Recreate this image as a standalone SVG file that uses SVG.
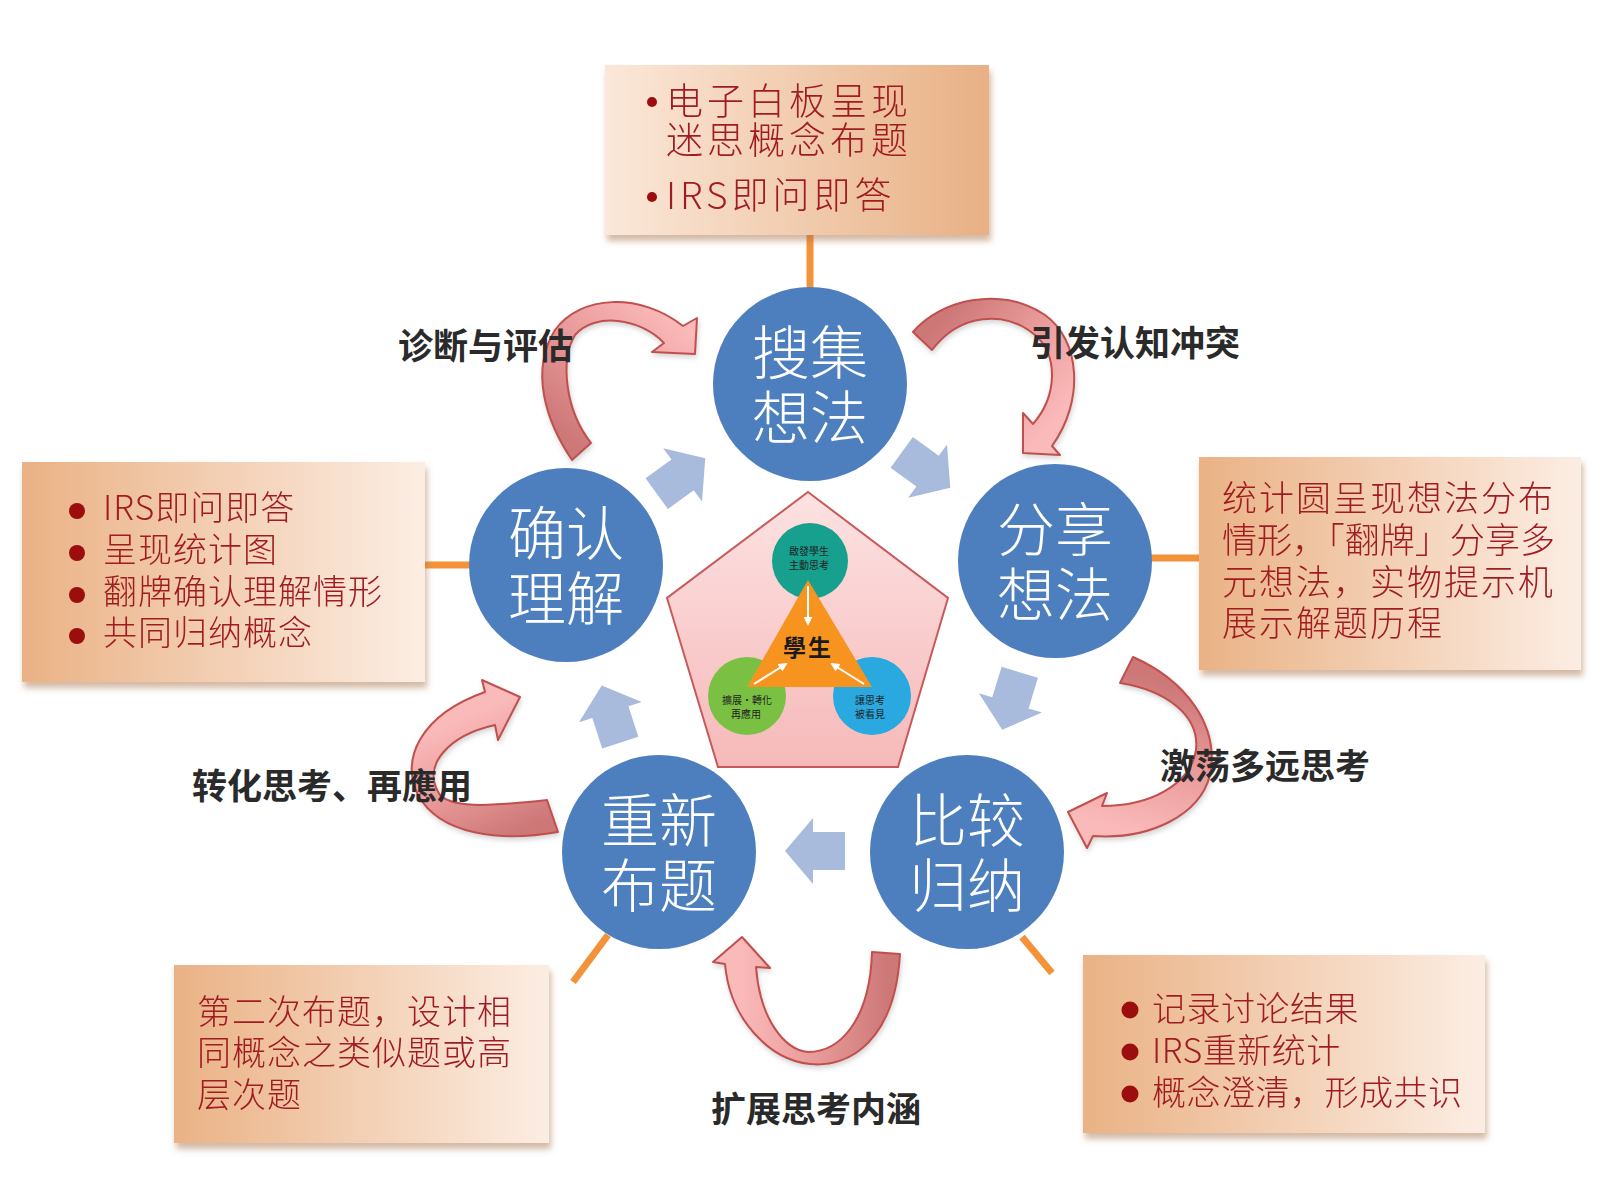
<svg xmlns="http://www.w3.org/2000/svg" width="1600" height="1197" viewBox="0 0 1600 1197">
<defs>
<style>
.bt{font-family:"Noto Sans CJK SC","Noto Sans",sans-serif;font-weight:300;fill:#a11d23;}
.lbl{font-family:"Noto Sans CJK SC","Noto Sans",sans-serif;font-weight:700;font-size:35px;fill:#2a2a2a;}
.nt{font-family:"Noto Sans CJK SC","Noto Sans",sans-serif;font-weight:300;font-size:58px;fill:#ffffff;text-anchor:middle;}
.node{fill:#4d7fbf;}
.conn{stroke:#f4923a;stroke-width:7;fill:none;}
.red{stroke:#c0504d;stroke-width:2;stroke-linejoin:round;}
.blue{fill:#a8bbdc;}
.bul{fill:#9c0c10;}
.small{font-family:"Noto Sans CJK TC","Noto Sans",sans-serif;font-size:10px;fill:#1e1e1e;text-anchor:middle;}
.wl{stroke:#ffffff;stroke-width:2;fill:none;marker-end:url(#wa);}
</style>
<linearGradient id="gL2D" x1="0" y1="0" x2="1" y2="0"><stop offset="0" stop-color="#fbe8da"/><stop offset="1" stop-color="#e8b084"/></linearGradient>
<linearGradient id="gD2L" x1="0" y1="0" x2="1" y2="0"><stop offset="0" stop-color="#eab285"/><stop offset="1" stop-color="#fcede3"/></linearGradient>
<linearGradient id="gPent" x1="0" y1="0" x2="0" y2="1"><stop offset="0" stop-color="#fde2e2"/><stop offset="1" stop-color="#f6b9b9"/></linearGradient>
<linearGradient id="rg"><stop offset="0" stop-color="#cd7777"/><stop offset="0.5" stop-color="#e99a9a"/><stop offset="1" stop-color="#fbbaba"/></linearGradient>
<linearGradient id="r1" href="#rg" gradientUnits="userSpaceOnUse" x1="581" y1="452" x2="690" y2="330"/>
<linearGradient id="r2" href="#rg" gradientUnits="userSpaceOnUse" x1="922" y1="341" x2="1040" y2="440"/>
<linearGradient id="r3" href="#rg" gradientUnits="userSpaceOnUse" x1="1126" y1="670" x2="1085" y2="820"/>
<linearGradient id="r4" href="#rg" gradientUnits="userSpaceOnUse" x1="890" y1="960" x2="740" y2="960"/>
<linearGradient id="r5" href="#rg" gradientUnits="userSpaceOnUse" x1="553" y1="816" x2="500" y2="700"/>
<filter id="sh" x="-10%" y="-10%" width="125%" height="135%"><feDropShadow dx="2" dy="6" stdDeviation="3" flood-color="#a8724a" flood-opacity="0.5"/></filter>
<filter id="sh2" x="-10%" y="-10%" width="125%" height="125%"><feDropShadow dx="1" dy="3" stdDeviation="2.5" flood-color="#888" flood-opacity="0.35"/></filter>
<path id="barrow" d="M-30,-19 L2,-19 L2,-33 L30,0 L2,33 L2,19 L-30,19 Z"/>
<marker id="wa" viewBox="0 0 10 10" refX="8" refY="5" markerWidth="4.5" markerHeight="4.5" orient="auto"><path d="M0,0 L10,5 L0,10 Z" fill="#ffffff"/></marker>
</defs>
<rect width="1600" height="1197" fill="#ffffff"/>

<g id="connectors">
<line class="conn" x1="810" y1="235" x2="810" y2="289"/>
<line class="conn" x1="425" y1="565" x2="471" y2="565"/>
<line class="conn" x1="1150" y1="558" x2="1199" y2="558"/>
<line class="conn" x1="608" y1="935" x2="573" y2="982"/>
<line class="conn" x1="1022" y1="937" x2="1052" y2="973"/>
<g filter="url(#sh2)">
<path class="red" fill="url(#r1)" d="M572,460 C545,420 530,370 555,330 C580,295 640,292 683,326 L697,318 L695,354 L652,352 L664,343 C640,318 595,312 575,335 C560,360 565,410 591,443 Z"/>
<path class="red" fill="url(#r2)" d="M913,332 C940,300 1000,285 1045,315 C1080,340 1085,400 1052,446 L1060,455 L1023,453 L1023,413 L1033,424 C1058,395 1058,355 1035,335 C1005,310 960,313 932,350 Z"/>
<path class="red" fill="url(#r3)" d="M1133,657 C1185,680 1220,725 1210,775 C1200,815 1150,840 1093,836 L1087,848 L1068,812 L1107,793 L1102,806 C1150,806 1190,785 1196,750 C1200,715 1165,690 1120,683 Z"/>
<path class="red" fill="url(#r4)" d="M900,954 C895,1040 850,1068 810,1064 C770,1060 730,1020 725,964 L713,962 L742,937 L770,968 L756,967 C760,1020 785,1050 808,1052 C840,1052 870,1020 872,952 Z"/>
<path class="red" fill="url(#r5)" d="M558,832 C500,842 440,835 418,795 C400,760 420,715 485,692 L482,680 L520,697 L498,740 L495,725 C450,735 420,765 440,795 C455,810 500,805 547,800 Z"/>
</g>
<use href="#barrow" class="blue" transform="translate(681,476) rotate(-36)"/>
<use href="#barrow" class="blue" transform="translate(926,470) rotate(36)"/>
<use href="#barrow" class="blue" transform="translate(1011,701) rotate(107)"/>
<use href="#barrow" class="blue" transform="translate(815,851) rotate(180)"/>
<use href="#barrow" class="blue" transform="translate(611,714) rotate(-108)"/>
</g>

<g id="box-top" filter="url(#sh)">
<rect x="605" y="65" width="384" height="170" fill="url(#gL2D)"/>
<circle class="bul" cx="652" cy="102" r="5"/>
<circle class="bul" cx="652" cy="197" r="5"/>
<text class="bt" font-size="37" letter-spacing="4" x="666" y="115">电子白板呈现</text>
<text class="bt" font-size="37" letter-spacing="4" x="666" y="154">迷思概念布题</text>
<text class="bt" font-size="37" letter-spacing="4" x="666" y="209">IRS即问即答</text>
</g>

<g id="box-left" filter="url(#sh)">
<rect x="22" y="462" width="403" height="220" fill="url(#gD2L)"/>
<circle class="bul" cx="77" cy="511" r="8"/>
<circle class="bul" cx="77" cy="553" r="8"/>
<circle class="bul" cx="77" cy="595" r="8"/>
<circle class="bul" cx="77" cy="636" r="8"/>
<text class="bt" font-size="34" letter-spacing="1" x="103" y="520">IRS即问即答</text>
<text class="bt" font-size="34" letter-spacing="1" x="103" y="562">呈现统计图</text>
<text class="bt" font-size="34" letter-spacing="1" x="103" y="604">翻牌确认理解情形</text>
<text class="bt" font-size="34" letter-spacing="1" x="103" y="645">共同归纳概念</text>
</g>

<g id="box-right" filter="url(#sh)">
<rect x="1199" y="457" width="382" height="213" fill="url(#gD2L)"/>
<text class="bt" font-size="35" letter-spacing="2" x="1222" y="511">统计圆呈现想法分布</text>
<text class="bt" font-size="35" x="1222" y="553" textLength="333" lengthAdjust="spacingAndGlyphs">情形，「翻牌」分享多</text>
<text class="bt" font-size="35" letter-spacing="2" x="1222" y="595">元想法，实物提示机</text>
<text class="bt" font-size="35" letter-spacing="2" x="1222" y="636">展示解题历程</text>
</g>

<g id="box-bottom-left" filter="url(#sh)">
<rect x="174" y="965" width="375" height="178" fill="url(#gD2L)"/>
<text class="bt" font-size="34" letter-spacing="1" x="197" y="1024">第二次布题，设计相</text>
<text class="bt" font-size="34" letter-spacing="1" x="197" y="1065">同概念之类似题或高</text>
<text class="bt" font-size="34" letter-spacing="1" x="197" y="1107">层次题</text>
</g>

<g id="box-bottom-right" filter="url(#sh)">
<rect x="1083" y="955" width="402" height="178" fill="url(#gD2L)"/>
<circle class="bul" cx="1130" cy="1010" r="8.5"/>
<circle class="bul" cx="1130" cy="1052" r="8.5"/>
<circle class="bul" cx="1130" cy="1094" r="8.5"/>
<text class="bt" font-size="34" letter-spacing="0.5" x="1152" y="1021">记录讨论结果</text>
<text class="bt" font-size="34" letter-spacing="0.5" x="1152" y="1063">IRS重新统计</text>
<text class="bt" font-size="34" letter-spacing="0.5" x="1152" y="1105">概念澄清，形成共识</text>
</g>

<g id="node-collect">
<circle class="node" cx="810" cy="384" r="97"/>
<text class="nt" x="810" y="374">搜集</text>
<text class="nt" x="810" y="439">想法</text>
</g>
<g id="node-share">
<circle class="node" cx="1055" cy="561" r="97"/>
<text class="nt" x="1055" y="551">分享</text>
<text class="nt" x="1055" y="616">想法</text>
</g>
<g id="node-compare">
<circle class="node" cx="967" cy="852" r="97"/>
<text class="nt" x="967" y="842">比较</text>
<text class="nt" x="967" y="907">归纳</text>
</g>
<g id="node-repose">
<circle class="node" cx="659" cy="852" r="97"/>
<text class="nt" x="659" y="842">重新</text>
<text class="nt" x="659" y="907">布题</text>
</g>
<g id="node-confirm">
<circle class="node" cx="566" cy="565" r="97"/>
<text class="nt" x="566" y="555">确认</text>
<text class="nt" x="566" y="620">理解</text>
</g>

<g id="node-center">
<polygon points="808,492 948,598 898,767 718,767 667,598" fill="url(#gPent)" stroke="#c8595a" stroke-width="2"/>
<circle cx="810" cy="561" r="38" fill="#17a08e"/>
<circle cx="747" cy="696" r="39" fill="#7ac143"/>
<circle cx="872" cy="696" r="39" fill="#2aa8e0"/>
<polygon points="808,580 872,687 747,687" fill="#f7941f"/>
<line class="wl" x1="808" y1="586" x2="808" y2="624"/>
<line class="wl" x1="754" y1="684" x2="786" y2="664"/>
<line class="wl" x1="864" y1="684" x2="832" y2="664"/>
<text x="808" y="656" text-anchor="middle" font-family="'Noto Sans CJK TC','Noto Sans',sans-serif" font-weight="700" font-size="23" letter-spacing="2" fill="#1a1a1a">學生</text>
<text class="small" x="809" y="555">啟發學生</text>
<text class="small" x="809" y="569">主動思考</text>
<text class="small" x="747" y="704">擴展・轉化</text>
<text class="small" x="746" y="718">再應用</text>
<text class="small" x="870" y="704">讓思考</text>
<text class="small" x="870" y="718">被看見</text>
</g>

<g id="labels">
<text class="lbl" x="398" y="359">诊断与评估</text>
<text class="lbl" x="1030" y="356">引发认知冲突</text>
<text class="lbl" x="1160" y="779">激荡多远思考</text>
<text class="lbl" x="711" y="1122">扩展思考内涵</text>
<text class="lbl" x="192" y="799">转化思考、再應用</text>
</g>
</svg>
